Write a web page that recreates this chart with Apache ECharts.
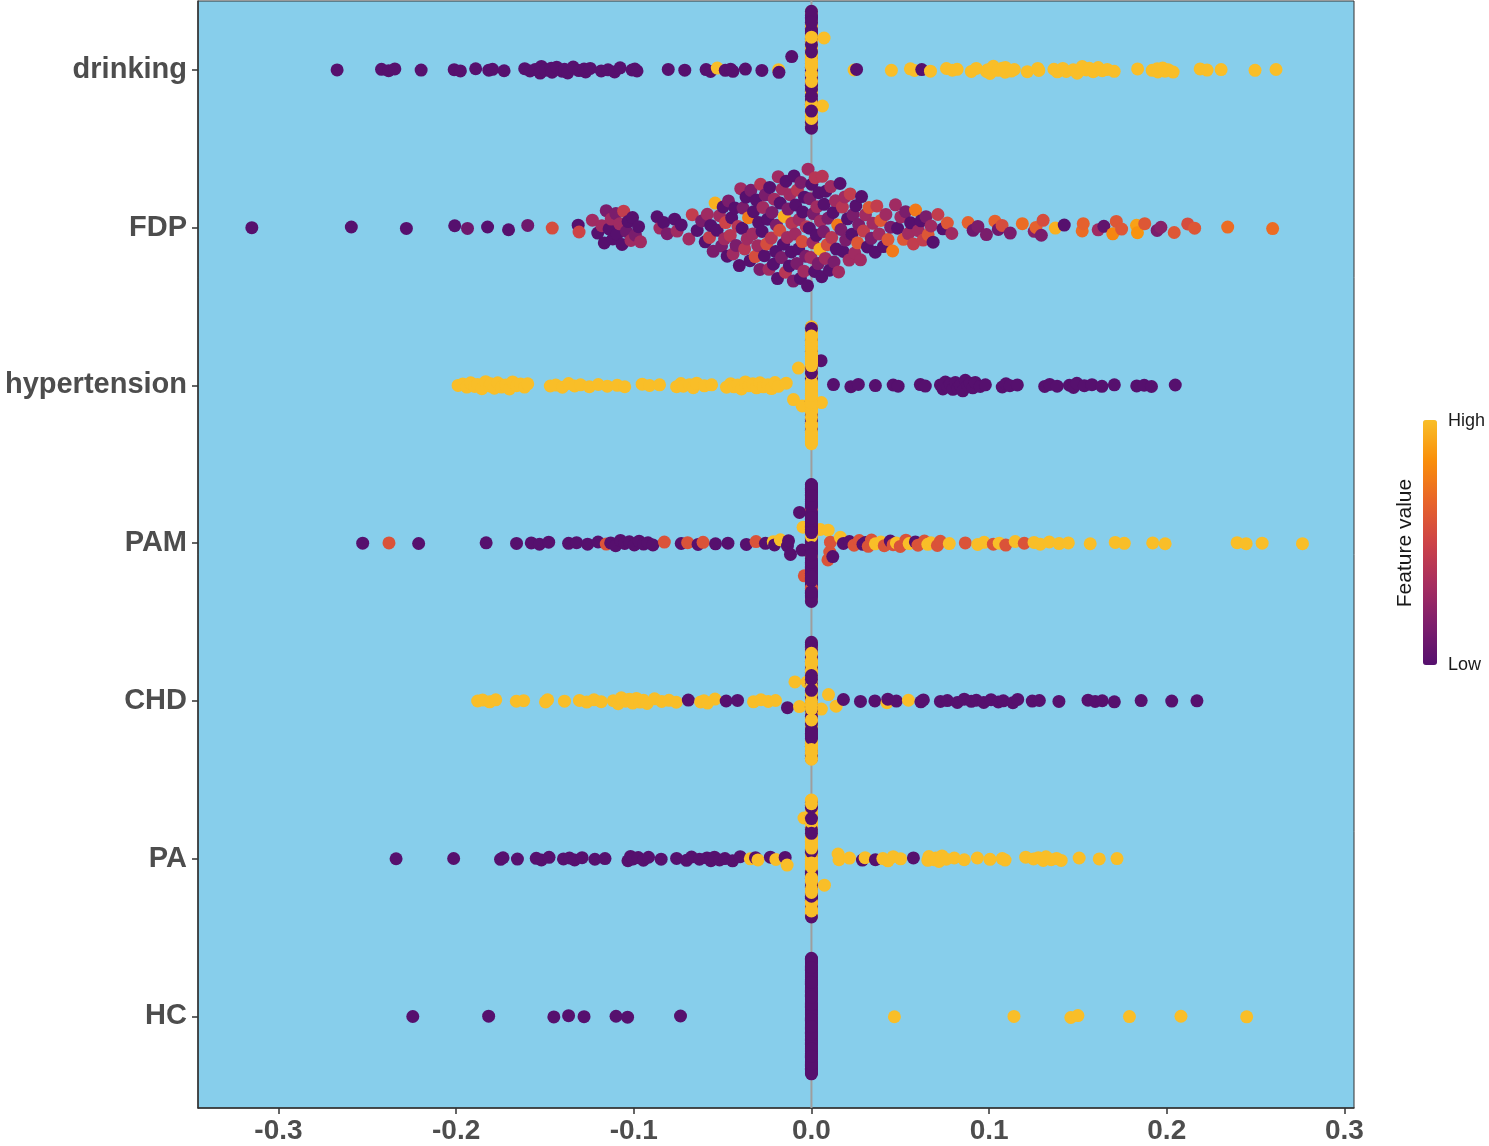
<!DOCTYPE html>
<html lang="en">
  <head>
    <meta charset="UTF-8" />
    <title>SHAP beeswarm</title>
    <script src="https://cdn.jsdelivr.net/npm/echarts@6/dist/echarts.min.js"></script>
    <style>
      html, body { margin: 0; padding: 0; background: #fff; }
      #main { width: 1489px; height: 1146px; }
    </style>
  </head>
  <body>
    <div id="main"></div>
    <script>
      // feature names, top to bottom
      const features = ["drinking", "FDP", "hypertension", "PAM", "CHD", "PA", "HC"];
      const xTicks = [-0.3, -0.2, -0.1, 0.0, 0.1, 0.2, 0.3];

      // [shap value, feature value 0..1] for each sample with a non-zero shap
      const drinking = [
        [-0.267,0],[-0.242,0],[-0.238,0],[-0.2345,0],[-0.2197,0],[-0.2011,0],[-0.1976,0],[-0.189,0],
        [-0.1816,0],[-0.1795,0],[-0.173,0],[-0.1614,0],[-0.1584,0],[-0.1555,0],[-0.152,0],[-0.1527,0],
        [-0.1497,0],[-0.1464,0],[-0.146,0],[-0.1434,0],[-0.1404,0],[-0.139,0],[-0.1372,0],[-0.1341,0],
        [-0.1309,0],[-0.128,0],[-0.1271,0],[-0.1245,0],[-0.1183,0],[-0.1145,0],[-0.1108,0],[-0.1077,0],
        [-0.101,0],[-0.0994,0],[-0.0982,0],[-0.0806,0],[-0.0713,0],[-0.0593,0],[-0.0568,0],[-0.053,1],
        [-0.0485,0],[-0.0455,0],[-0.0442,0],[-0.0372,0],[-0.0279,0],[-0.0185,1],[-0.0183,0],[-0.0111,0],
        [0.0062,1],[0.0071,1],[0.024,1],[0.0254,0],[0.045,1],[0.0557,1],[0.058,1],[0.0621,0],[0.067,1],
        [0.076,1],[0.0793,1],[0.082,1],[0.09,1],[0.0928,1],[0.0985,1],[0.0993,1],[0.1005,1],[0.1024,1],
        [0.105,1],[0.1074,1],[0.109,1],[0.1092,1],[0.1125,1],[0.1142,1],[0.1215,1],[0.1274,1],[0.128,1],
        [0.1365,1],[0.1384,1],[0.1415,1],[0.1434,1],[0.1474,1],[0.1496,1],[0.1524,1],[0.1547,1],
        [0.1564,1],[0.1586,1],[0.1614,1],[0.1637,1],[0.1665,1],[0.1704,1],[0.1836,1],[0.1918,1],
        [0.1946,1],[0.195,1],[0.1977,1],[0.199,1],[0.2008,1],[0.2036,1],[0.2188,1],[0.2227,1],
        [0.2306,1],[0.2497,1],[0.2615,1]
      ];
      const fdp = [
        [-0.315,0],[-0.259,0],[-0.228,0],[-0.2008,0],[-0.1936,0.1],[-0.1823,0],[-0.1705,0],[-0.1597,0.1],
        [-0.1459,0.55],[-0.1313,0],[-0.1308,0.5],[-0.1233,0.3],[-0.1203,0],
        [-0.118,0.3],[-0.1166,0],[-0.1155,0.15],[-0.1139,0],[-0.1127,0.3],[-0.1118,0],[-0.1101,0.15],
        [-0.1094,0],[-0.1079,0.3],[-0.1066,0],[-0.1057,0.45],[-0.1041,0.1],[-0.1032,0],[-0.1016,0.3],
        [-0.1007,0],[-0.0991,0.15],[-0.0973,0],[-0.0962,0.3],
        [-0.0869,0],[-0.0853,0.3],[-0.0832,0],[-0.0812,0.15],[-0.077,0],[-0.0756,0.3],[-0.0733,0],
        [-0.069,0.3],[-0.0671,0.45],[-0.0643,0],[-0.0618,0.15],
        [-0.0598,0],[-0.0586,0.3],[-0.0574,0.45],[-0.0567,0],[-0.0553,0.15],[-0.0542,0.95],[-0.0531,0],
        [-0.0517,0.3],[-0.0506,0.15],
        [-0.0497,0],[-0.0489,0.3],[-0.0483,0.5],[-0.0474,0],[-0.0467,0.15],[-0.0457,0.4],[-0.0449,0],
        [-0.0441,0.3],[-0.0431,0],[-0.0424,0.15],[-0.0413,0.4],[-0.0406,0],
        [-0.0398,0.3],[-0.039,0],[-0.0385,0.15],[-0.0376,0.4],[-0.0368,0],[-0.0362,0.3],[-0.0354,0.75],
        [-0.0346,0],[-0.0341,0.15],[-0.0331,0.3],[-0.0326,0],[-0.0317,0.55],[-0.0311,0],[-0.0302,0.3],
        [-0.0297,0],[-0.029,0.15],[-0.0286,0.4],[-0.0278,0],[-0.0273,0.3],[-0.0265,0],[-0.026,0.15],
        [-0.0252,0.55],[-0.0247,0],[-0.0239,0.3],[-0.0235,0],[-0.0226,0.4],[-0.0222,0.15],[-0.0214,0],
        [-0.0209,0.3],[-0.0201,0],
        [-0.0197,0.15],[-0.0191,0],[-0.0187,0.3],[-0.0179,0.55],[-0.0176,0],[-0.0169,0.15],[-0.0165,0.3],
        [-0.0157,0],[-0.0153,0.95],[-0.0146,0.4],[-0.0143,0],[-0.0135,0.3],[-0.0132,0.15],[-0.0124,0],
        [-0.0121,0.3],[-0.0113,0],[-0.011,0.4],[-0.0102,0.15],
        [-0.0098,0],[-0.0092,0.3],[-0.0089,0],[-0.0082,0.15],[-0.0079,0.4],[-0.0072,0],[-0.0069,0.3],
        [-0.0062,0],[-0.0059,0.15],[-0.0052,0.55],[-0.0049,0],[-0.0042,0.3],[-0.0039,0],[-0.0032,0.15],
        [-0.0029,0.4],[-0.0022,0],[-0.0019,0.3],[-0.0012,0],[-0.0009,0.15],[-0.0003,0.3],
        [0.0002,0],[0.0008,0.3],[0.0011,0.15],[0.0018,0],[0.0021,0.4],[0.0028,0],[0.0031,0.3],
        [0.0038,0.15],[0.0041,0],[0.0048,0.95],[0.0051,0.3],[0.0058,0],[0.0061,0.4],[0.0068,0.15],
        [0.0071,0],[0.0078,0.3],[0.0081,0],[0.0089,0.55],[0.0093,0.15],
        [0.0102,0],[0.0109,0.3],[0.0114,0.4],[0.0122,0],[0.0127,0.15],[0.0135,0.3],[0.014,0],
        [0.0148,0.75],[0.0153,0.3],[0.0161,0],[0.0166,0.15],[0.0174,0.4],[0.0179,0],[0.0188,0.3],
        [0.0193,0.15],
        [0.0203,0],[0.0212,0.3],[0.0218,0.45],[0.0228,0],[0.0234,0.15],[0.0244,0.3],[0.025,0],
        [0.026,0.6],[0.0266,0.15],[0.0276,0.3],[0.0282,0],[0.0293,0.45],
        [0.0304,0.3],[0.0315,0],[0.0324,0.6],[0.0337,0.15],[0.0346,0.3],[0.0359,0],[0.0368,0.45],
        [0.0381,0.3],[0.0391,0.6],
        [0.0405,0],[0.0419,0.3],[0.0431,0.6],[0.0446,0.15],[0.0457,0.75],[0.0473,0.3],[0.0485,0],
        [0.0503,0.3],[0.0518,0.6],[0.053,0.15],[0.0546,0.3],[0.0558,0],[0.0574,0.45],[0.0586,0.75],
        [0.0602,0.3],[0.0617,0],[0.0629,0.45],[0.0645,0.15],[0.0657,0.6],[0.0673,0.3],[0.0685,0],
        [0.0712,0.45],[0.074,0],[0.0765,0.6],[0.079,0.3],
        [0.0882,0.65],[0.091,0.1],[0.0937,0.15],[0.0985,0.15],[0.1033,0.65],[0.1052,0.1],[0.1073,0.55],
        [0.1119,0.15],[0.1187,0.7],[0.1254,0.2],[0.1264,0.65],[0.1294,0.15],[0.1304,0.55],[0.1373,0.95],
        [0.1423,0],[0.1524,0.7],[0.153,0.65],[0.1614,0.3],[0.1646,0.05],[0.1696,0.8],[0.1716,0.6],
        [0.1746,0.6],[0.183,0.9],[0.1835,0.85],[0.1876,0.6],[0.1946,0.15],[0.1967,0.2],[0.2042,0.6],
        [0.2118,0.55],[0.2157,0.6],[0.2343,0.7],[0.2596,0.7]
      ];
      const hypertension = [
        [-0.1989,1],[-0.1963,1],[-0.194,1],[-0.1918,1],[-0.1895,1],[-0.1879,1],[-0.1855,1],[-0.1834,1],
        [-0.1812,1],[-0.1806,1],[-0.1785,1],[-0.1766,1],[-0.1745,1],[-0.1721,1],[-0.17,1],[-0.1682,1],
        [-0.166,1],[-0.1637,1],[-0.1615,1],[-0.1597,1],[-0.147,1],[-0.1439,1],[-0.1402,1],[-0.1367,1],
        [-0.1333,1],[-0.13,1],[-0.125,1],[-0.12,1],[-0.1149,1],[-0.1093,1],[-0.1051,1],[-0.0953,1],
        [-0.0911,1],[-0.0855,1],[-0.0759,1],[-0.0735,1],[-0.0721,1],[-0.0687,1],[-0.0665,1],[-0.0646,1],
        [-0.0603,1],[-0.0562,1],[-0.0478,1],[-0.0455,1],[-0.0436,1],[-0.0415,1],[-0.0394,1],[-0.0372,1],
        [-0.0352,1],[-0.033,1],[-0.0309,1],[-0.029,1],[-0.027,1],[-0.0245,1],[-0.0225,1],[-0.0205,1],
        [-0.0186,1],[-0.0142,1],[-0.0101,1],[-0.0073,1],[-0.0052,1],
        [0.0054,0],[0.0056,1],[0.0124,0],[0.0222,0],[0.0264,0],[0.036,0],[0.046,0],[0.0488,0],[0.0613,0],
        [0.0641,0],[0.0726,0],[0.074,0],[0.0754,0],[0.0768,0],[0.0782,0],[0.0796,0],[0.081,0],[0.0824,0],
        [0.0838,0],[0.0852,0],[0.0866,0],[0.088,0],[0.0894,0],[0.0908,0],[0.0922,0],[0.095,0],[0.0979,0],
        [0.1074,0],[0.1095,0],[0.1117,0],[0.1159,0],[0.1313,0],[0.1341,0],[0.1383,0],[0.1452,0],
        [0.1475,0],[0.1494,0],[0.1536,0],[0.1579,0],[0.1635,0],[0.1705,0],[0.1831,0],[0.1873,0],
        [0.1914,0],[0.2048,0]
      ];
      const pam = [
        [-0.2526,0],[-0.2378,0.58],[-0.2211,0],[-0.1831,0],[-0.166,0],[-0.1577,0],[-0.1531,0],[-0.1479,0],
        [-0.1367,0],[-0.1322,0],[-0.126,0],[-0.1201,0],[-0.1155,0.58],[-0.113,0],[-0.1102,0],[-0.1075,0],
        [-0.1051,0],[-0.1025,0],[-0.0997,0],[-0.097,0],[-0.0945,0],[-0.092,0],[-0.0892,0],[-0.0828,0.58],
        [-0.0733,0],[-0.0697,0.58],[-0.0638,0],[-0.061,0.58],[-0.054,0],[-0.047,0],[-0.0366,0],
        [-0.0312,0.58],[-0.0259,0],[-0.0215,1],[-0.0208,0],[-0.0175,1],[-0.0135,0],[-0.0129,0],
        [-0.0118,0],[-0.0067,0],[-0.0052,0],[-0.0047,1],[-0.004,0.58],
        [0.005,1],[0.0093,0.58],[0.0094,1],[0.0103,0.58],[0.0107,0.58],[0.012,0],[0.0163,1],[0.018,0],
        [0.0214,0],[0.024,0.58],[0.0269,0.58],[0.029,0],[0.0304,0],[0.032,0.58],[0.0338,0.58],[0.036,1],
        [0.0391,1],[0.041,0.58],[0.0444,0],[0.046,0.58],[0.0478,1],[0.05,0.58],[0.0532,0.58],[0.055,1],
        [0.0585,0],[0.06,0.58],[0.0636,0.58],[0.0655,1],[0.0673,1],[0.0709,0.58],[0.0726,0.58],
        [0.0776,1],[0.0866,0.58],[0.0936,1],[0.0972,1],[0.1024,0.58],[0.1057,1],[0.1094,0.58],
        [0.1147,1],[0.1198,0.58],[0.1253,1],[0.1288,1],[0.1339,1],[0.1394,1],[0.1446,1],[0.1569,1],
        [0.171,1],[0.1761,1],[0.1921,1],[0.1991,1],[0.2396,1],[0.2447,1],[0.2537,1],[0.2764,1]
      ];
      const chd = [
        [-0.1879,1],[-0.1851,1],[-0.1811,1],[-0.1777,1],[-0.1661,1],[-0.162,1],[-0.1497,1],[-0.1485,1],
        [-0.139,1],[-0.1306,1],[-0.1265,1],[-0.1224,1],[-0.1183,1],[-0.1115,1],[-0.1088,1],[-0.107,1],
        [-0.1047,1],[-0.1025,1],[-0.1006,1],[-0.0985,1],[-0.0965,1],[-0.0945,1],[-0.0925,1],[-0.0883,1],
        [-0.0843,1],[-0.0802,1],[-0.0761,1],[-0.0693,0],[-0.0624,1],[-0.0605,1],[-0.0585,1],[-0.0543,1],
        [-0.048,0],[-0.0416,0],[-0.0326,1],[-0.0284,1],[-0.0243,1],[-0.0202,1],[-0.0135,0],[-0.0093,1],
        [-0.0067,1],[-0.0025,1],
        [0.0056,1],[0.0096,1],[0.0139,1],[0.018,0],[0.0276,0],[0.0357,0],[0.0425,1],[0.043,0],[0.0478,0],
        [0.0546,1],[0.0616,0],[0.063,0],[0.0726,0],[0.0765,0],[0.0821,0],[0.086,0],[0.09,0],[0.0928,0],
        [0.097,0],[0.1011,0],[0.1052,0],[0.108,0],[0.1134,0],[0.1161,0],[0.1243,0],[0.1283,0],
        [0.1393,0],[0.1557,0],[0.1597,0],[0.1637,0],[0.1705,0],[0.1856,0],[0.2028,0],[0.217,0]
      ];
      const pa = [
        [-0.2338,0],[-0.2014,0],[-0.175,0],[-0.1736,0],[-0.1655,0],[-0.1549,0],[-0.152,0],[-0.1477,0],
        [-0.1396,0],[-0.1362,0],[-0.1333,0],[-0.1291,0],[-0.1219,0],[-0.1162,0],[-0.1033,0],[-0.1018,0],
        [-0.1004,0],[-0.0975,0],[-0.0946,0],[-0.0917,0],[-0.0846,0],[-0.0759,0],[-0.0703,0],[-0.0675,0],
        [-0.063,0],[-0.0588,0],[-0.0566,0],[-0.0546,0],[-0.0517,0],[-0.0487,0],[-0.0444,0],[-0.0401,0],
        [-0.0344,1],[-0.0315,0],[-0.0301,1],[-0.0231,0],[-0.02,1],[-0.0148,0],[-0.0137,1],[-0.0042,1],
        [0.0073,1],[0.015,1],[0.0155,1],[0.0214,1],[0.0287,0],[0.0302,1],[0.036,0],[0.0402,1],[0.0431,1],
        [0.046,1],[0.0502,1],[0.0574,0],[0.0655,1],[0.0661,1],[0.069,1],[0.07,1],[0.0718,1],[0.0735,1],
        [0.0759,1],[0.0804,1],[0.086,1],[0.0934,1],[0.1005,1],[0.1074,1],[0.109,1],[0.1206,1],[0.125,1],
        [0.1277,1],[0.1305,1],[0.132,1],[0.135,1],[0.138,1],[0.1406,1],[0.1507,1],[0.162,1],[0.172,1]
      ];
      const hc = [
        [-0.2244,0],[-0.1817,0],[-0.145,0],[-0.1367,0],[-0.128,0],[-0.11,0],[-0.1035,0],[-0.0737,0],
        [0.0467,1],[0.114,1],[0.146,1],[0.15,1],[0.179,1],[0.208,1],[0.245,1]
      ];

      // feature values of the samples whose shap value is exactly 0
      const drinkingZero = [
        0,1,0,1,1,0,1,0,0,1, 1,0,1,0,1,1,0,0,1,0, 0,1,1,0,1,0,0,1,1,0, 1,0,0,1,0,1,1,0,1,0,
        0,1,0,1,1,0,0,1,0,1, 1,0,1,0,0,1,1,0,1,0, 0,1,1,0,1,0,1,0,0,1, 1,0,0,1,1,0,1,1,0,0,
        0,1,0,1,0,1,1,0,0,1, 1,0,1,1,0,0,1,0,1,0, 0,1,1,0,1,0,0,1,0,1
      ];
      const fdpZero = [];
      const hypertensionZero = [
        1,1,0,1,1,1,1,0,1,1, 1,1,1,0,1,1,1,1,1,0, 1,1,0,1,1,1,1,1,1,0, 1,1,1,1,0,1,1,1,1,1,
        0,1,1,1,1,1,0,1,1,1, 1,1,1,0,1,1,1,1,0,1, 1,0,1,1,1,1,1,1,1,0, 1,1,1,0,1,1,1,1,1,1,
        0,1,1,1,1,0,1,1,1,1, 1,1,0,1,1,1,1,1,0,1, 1,1,1,1,0,1,1,1,1,1
      ];
      const pamZero = [
        0,0,0,0,0,1,0,0,0,0, 0,0,0.58,0,0,0,0,0,0,0, 0,0,0,0,1,0,0,0,0,0, 0,0,0,0,0,0,0,0.58,0,0,
        0,0,0,0,0,0,0,0,0,0, 0,1,0,0,0,0,0,0,0,0, 0,0,0,0,0.58,0,0,0,0,0, 0,0,0,0,0,0,0,1,0,0,
        0,0,0,0,0,0,0,0,0,0, 0,0.58,0,0,0,0,0,0,1,0, 0,0,0,0,0,0,0,0,0,0
      ];
      const chdZero = [
        1,1,0,1,1,0,0,1,0,1, 1,0,0,1,0,1,0,0,1,1, 0,1,0,0,1,0,1,0,0,1, 1,0,0,1,0,1,0,0,1,1,
        1,0,1,0,0,1,1,0,1,0, 0,1,1,0,0,1,0,1,1,0, 1,0,0,1,1,0,1,0,0,1, 0,1,0,1,1,0,0,1,1,0,
        1,1,0,0,1,0,1,1,0,0, 0,1,1,0,1,0,0,1,0,1, 1,0,1,0,0,1,1,0,1,1
      ];
      const paZero = [
        0,1,0,0,1,1,1,0,1,1, 0,1,1,0,1,1,0,0,1,0, 0,1,1,1,0,0,1,0,0,1, 1,0,1,1,0,1,1,0,1,1,
        1,1,0,1,0,1,1,1,0,1, 0,1,1,0,1,0,1,1,1,0, 1,1,0,1,1,1,0,1,0,1, 1,0,1,1,0,1,1,0,1,1,
        0,1,1,1,0,1,0,1,1,0, 1,1,0,1,1,0,1,1,0,1, 1,0,1,1,1,0,1,0,1,1
      ];
      const hcZero = [
        0,0,0,0,0,0,0,0,0,0, 0,0,0,0,0,0,0,0,0,0, 0,0,0,0,0,0,0,0,0,0, 0,0,0,0,0,0,0,0,0,0,
        0,0,0,0,0,0,0,0,0,0, 0,0,0,0,0,0,0,0,0,0, 0,0,0,0,0,0,0,0,0,0, 0,0,0,0,0,0,0,0,0,0,
        0,0,0,0,0,0,0,0,0,0, 0,0,0,0,0,0,0,0,0,0
      ];

      const rows = [
        [drinking, drinkingZero], [fdp, fdpZero], [hypertension, hypertensionZero],
        [pam, pamZero], [chd, chdZero], [pa, paZero], [hc, hcZero]
      ];

      // quasirandom (van der Corput) offsets scaled by density, like ggbeeswarm
      const bandwidth = [0.0065, 0.009, 0.0065, 0.0065, 0.0065, 0.0065, 0.0065];
      const WIDTH = 0.375;
      const vdc = (i) => {
        let v = 0, d = 1;
        while (i > 0) { d *= 2; v += (i % 2) / d; i = Math.floor(i / 2); }
        return v;
      };
      const layoutRow = (pts, row, bw) => {
        const xs = pts.map((p) => p[0]);
        const dens = xs.map((x) =>
          xs.reduce((s, xi) => s + Math.exp(-0.5 * ((x - xi) / bw) ** 2), 0)
        );
        const maxD = Math.max(...dens);
        const order = xs.map((x, i) => i).sort((a, b) => xs[a] - xs[b] || a - b);
        const out = new Array(pts.length);
        order.forEach((idx, r) => {
          const off = (vdc(r + 1) - 0.5) * 2 * WIDTH * dens[idx] / maxD;
          out[idx] = [xs[idx], row + off, pts[idx][1]];
        });
        return out;
      };

      let points = [];
      rows.forEach(([vals, zeros], i) => {
        const all = vals.concat(zeros.map((v) => [0, v]));
        points = points.concat(layoutRow(all, i + 1, bandwidth[i]));
      });

      const yMin = 0.563, yMax = 7.58;
      const labelFont = "'Liberation Sans', Arial, Helvetica, sans-serif";

      const option = {
        animation: false,
        backgroundColor: "#ffffff",
        grid: {
          left: 198, right: 135, top: 1, bottom: 38,
          outerBoundsMode: "none",
          show: true, backgroundColor: "#87CEEB", borderColor: "#333", borderWidth: 1
        },
        xAxis: {
          type: "value",
          min: -0.3453, max: 0.3054,
          splitLine: { show: false },
          axisLine: { show: true, onZero: false, lineStyle: { color: "#333", width: 1.5 } },
          axisTick: { show: true, length: 6, customValues: xTicks, lineStyle: { color: "#333", width: 1.5 } },
          axisLabel: {
            customValues: xTicks,
            formatter: (v) => v.toFixed(1),
            fontSize: 28, fontWeight: "bold", color: "#4D4D4D", fontFamily: labelFont, margin: 9
          }
        },
        yAxis: {
          type: "value",
          inverse: true,
          min: yMin, max: yMax,
          splitLine: { show: false },
          axisLine: { show: true, onZero: false, lineStyle: { color: "#333", width: 1.5 } },
          axisTick: { show: true, length: 6, customValues: [1, 2, 3, 4, 5, 6, 7], lineStyle: { color: "#333", width: 1.5 } },
          axisLabel: {
            customValues: [1, 2, 3, 4, 5, 6, 7],
            formatter: (v) => features[Math.round(v) - 1],
            fontSize: 29, fontWeight: "bold", color: "#4D4D4D", fontFamily: labelFont, margin: 11
          }
        },
        visualMap: {
          type: "continuous",
          min: 0, max: 1,
          dimension: 2,
          seriesIndex: 1,
          orient: "vertical",
          left: 1423, top: 420,
          itemWidth: 14, itemHeight: 245,
          padding: 0,
          calculable: false,
          text: null,
          inRange: {
            color: ["#56106E", "#7E1E6C", "#A82E5F", "#CD4347", "#E8642A", "#F98E0A", "#F9BE28"]
          }
        },
        graphic: [
          { type: "text", left: 1448, top: 412, style: { text: "High", fontSize: 18, fill: "#1a1a1a", fontFamily: labelFont } },
          { type: "text", left: 1448, top: 656, style: { text: "Low", fontSize: 18, fill: "#1a1a1a", fontFamily: labelFont } },
          {
            type: "text", x: 1405, y: 543, rotation: Math.PI / 2,
            style: { text: "Feature value", fontSize: 21, fill: "#1a1a1a", fontFamily: labelFont, align: "center", verticalAlign: "middle" }
          }
        ],
        series: [
          {
            type: "line",
            data: [[0, yMin], [0, yMax]],
            symbol: "none",
            silent: true,
            z: 1,
            lineStyle: { color: "#9E9E9E", width: 2 }
          },
          {
            type: "scatter",
            data: points,
            symbolSize: 13,
            z: 2,
            itemStyle: { opacity: 1 }
          }
        ]
      };

      const chart = echarts.init(document.getElementById("main"));
      chart.setOption(option);
    </script>
  </body>
</html>
